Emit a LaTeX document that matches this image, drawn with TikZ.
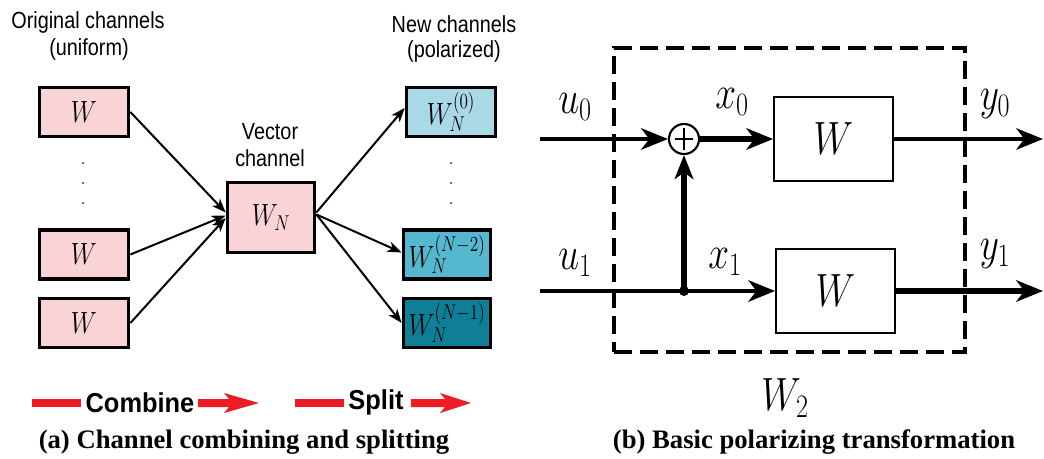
\RequirePackage{fix-cm}
\documentclass[tikz,border=0pt]{standalone}
\usepackage{fontspec}
\usepackage{graphicx}
\setmainfont{Liberation Serif}
\newfontfamily\labfont[FakeStretch=0.85]{Liberation Sans}
\newfontfamily\arrfont[FakeStretch=0.93]{Liberation Sans}
\usetikzlibrary{arrows.meta,calc}

\definecolor{chpink}{HTML}{F9D3D5}
\definecolor{bluelight}{HTML}{A9D9E7}
\definecolor{bluemid}{HTML}{56B8CF}
\definecolor{bluedark}{HTML}{0F7F98}
\definecolor{flowred}{HTML}{ED1C24}
\definecolor{dotgray}{HTML}{3A4155}

% horizontally narrowed math, as set in the figure
\newcommand\hsq[1]{\scalebox{0.8}[1]{#1}}
\newcommand\msmall{\fontsize{23}{27}\selectfont}
\newcommand\mbig{\fontsize{35}{41}\selectfont}

\begin{document}
\begin{tikzpicture}[x=0.75pt,y=-0.75pt,
  chbox/.style={draw=black, line width=2.8pt, inner sep=0pt, font=\msmall,
                minimum width=66.75pt, minimum height=36.75pt},
  lab/.style={font=\labfont\fontsize{17.5}{20}\selectfont, align=center, inner sep=0pt},
  flowlab/.style={font=\arrfont\bfseries\fontsize{20.5}{24}\selectfont, inner sep=0pt},
  captext/.style={font=\bfseries\fontsize{20}{24}\selectfont, inner sep=0pt},
  thinarrow/.style={line width=1.5pt, -{Stealth[length=10.5pt,width=8pt,inset=3pt]}},
  mainline/.style={line width=3.3pt},
  thickline/.style={line width=4.6pt},
  bighead/.style={-{Stealth[length=20pt,width=16pt,inset=6pt]}},
  wbox/.style={draw=black, line width=1.6pt, fill=white, inner sep=0pt, font=\mbig,
               minimum width=89pt, minimum height=62.5pt},
  mlab/.style={font=\mbig, inner sep=0pt},
  dashbox/.style={draw=black, line width=3.5pt, dash pattern=on 13.5pt off 6pt,
                  minimum width=263.25pt, minimum height=228pt, inner sep=0pt},
  vdot/.style={circle, fill=dotgray, minimum size=1.8pt, inner sep=0pt}
]
\fill[white] (0,0) rectangle (1044,459);
\useasboundingbox (0,0) rectangle (1044,459);

% ---------------- (a) combining and splitting ----------------
\node[lab] (orig1) at (88,22) {Original channels};
\node[lab] (orig2) at (89,49) {(uniform)};
\node[lab] (new1) at (454,24) {New channels};
\node[lab] (new2) at (454,51) {(polarized)};
\node[lab] (vec1) at (270,132) {Vector};
\node[lab] (vec2) at (270,158) {channel};

\node[chbox, fill=chpink] (L1) at (84,112) {\hsq{$W$}};
\node[chbox, fill=chpink] (L2) at (84,254.5) {\hsq{$W$}};
\node[chbox, fill=chpink] (L3) at (84,323) {\hsq{$W$}};

\node[chbox, fill=chpink, minimum width=65.25pt, minimum height=52.5pt] (WN) at (271,217.5) {\hsq{$W_N$}};

\node[chbox, fill=bluelight] (R1) at (451,112) {\hsq{$W_N^{(0)}$}};
\node[chbox, fill=bluemid, minimum width=65.25pt] (R2) at (447,254.5) {\hsq{$W_N^{(N-2)}$}};
\node[chbox, fill=bluedark, minimum width=65.25pt] (R3) at (447,323) {\hsq{$W_N^{(N-1)}$}};

\foreach \yy [count=\i] in {163,183,203} {
  \node[vdot] (ld\i) at (83,\yy) {};
  \node[vdot] (rd\i) at (451,\yy) {};
}

\draw[thinarrow] (L1.east) -- ($(WN.west)+(0,-5)$);
\draw[thinarrow] (L2.east) -- ($(WN.west)+(0,-2)$);
\draw[thinarrow] (L3.east) -- ($(WN.west)+(0,0.5)$);

\draw[thinarrow] ($(WN.east)+(0,-5)$) -- ($(R1.west)+(0,-4)$);
\draw[thinarrow] ($(WN.east)+(0,-3)$) -- ($(R2.west)+(0,-2)$);
\draw[thinarrow] ($(WN.east)+(0,-3)$) -- (R3.west);

% red flow arrows
\fill[flowred] (32,399) rectangle (81,407);
\node[flowlab] (comb) at (140,403) {Combine};
\fill[flowred] (198,399) -- (229,399) -- (224,393) -- (259,403) -- (224,413) -- (229,407) -- (198,407) -- cycle;
\fill[flowred] (295,399) rectangle (344,407);
\node[flowlab] (split) at (376,402) {Split};
\fill[flowred] (411,399) -- (445,399) -- (440,393) -- (471,403) -- (440,413) -- (445,407) -- (411,407) -- cycle;

\node[captext] (capa) at (244,442) {(a) Channel combining and splitting};

% ---------------- (b) basic polarizing transformation ----------------
\node[dashbox] (F) at (789.5,200) {};

\node[circle, draw=black, line width=1.6pt, minimum size=22.5pt, inner sep=0pt] (S) at (684,139) {};
\draw[line width=1.6pt] ($(S.center)+(-9,0)$) -- ($(S.center)+(9,0)$);
\draw[line width=1.6pt] ($(S.center)+(0,-11)$) -- ($(S.center)+(0,11)$);

\node[wbox] (B0) at (833.5,139) {\hsq{$W$}};
\node[wbox, minimum height=63.5pt] (B1) at (835.5,291) {\hsq{$W$}};
\node[circle, fill=black, minimum size=7.5pt, inner sep=0pt] (D) at (684,291) {};

\coordinate (in0) at (540,139);
\coordinate (in1) at (540,291);
\coordinate (out0) at (1043,139);
\coordinate (out1) at (1043,291);

\draw[mainline, bighead] (in0) -- (S.west);
\draw[thickline, bighead] (S.east) -- (B0.west);
\draw[mainline, bighead] (B0.east) -- (out0);
\draw[mainline, bighead] (in1) -- (B1.west);
\draw[thickline, -{Stealth[length=18pt,width=14pt,inset=5pt]}] (D.center) -- (S.south);
\draw[thickline, bighead] (B1.east) -- (out1);

\node[mlab] (u0) at (575,107) {\hsq{$u_0$}};
\node[mlab] (x0) at (732,102) {\hsq{$x_0$}};
\node[mlab] (y0) at (995,104) {\hsq{$y_0$}};
\node[mlab] (u1) at (575,263) {\hsq{$u_1$}};
\node[mlab] (x1) at (725,262) {\hsq{$x_1$}};
\node[mlab] (y1) at (995,254) {\hsq{$y_1$}};
\node[mlab] (W2) at (785,398) {\hsq{$W_2$}};

\node[captext] (capb) at (814,442) {(b) Basic polarizing transformation};
\end{tikzpicture}
\end{document}
